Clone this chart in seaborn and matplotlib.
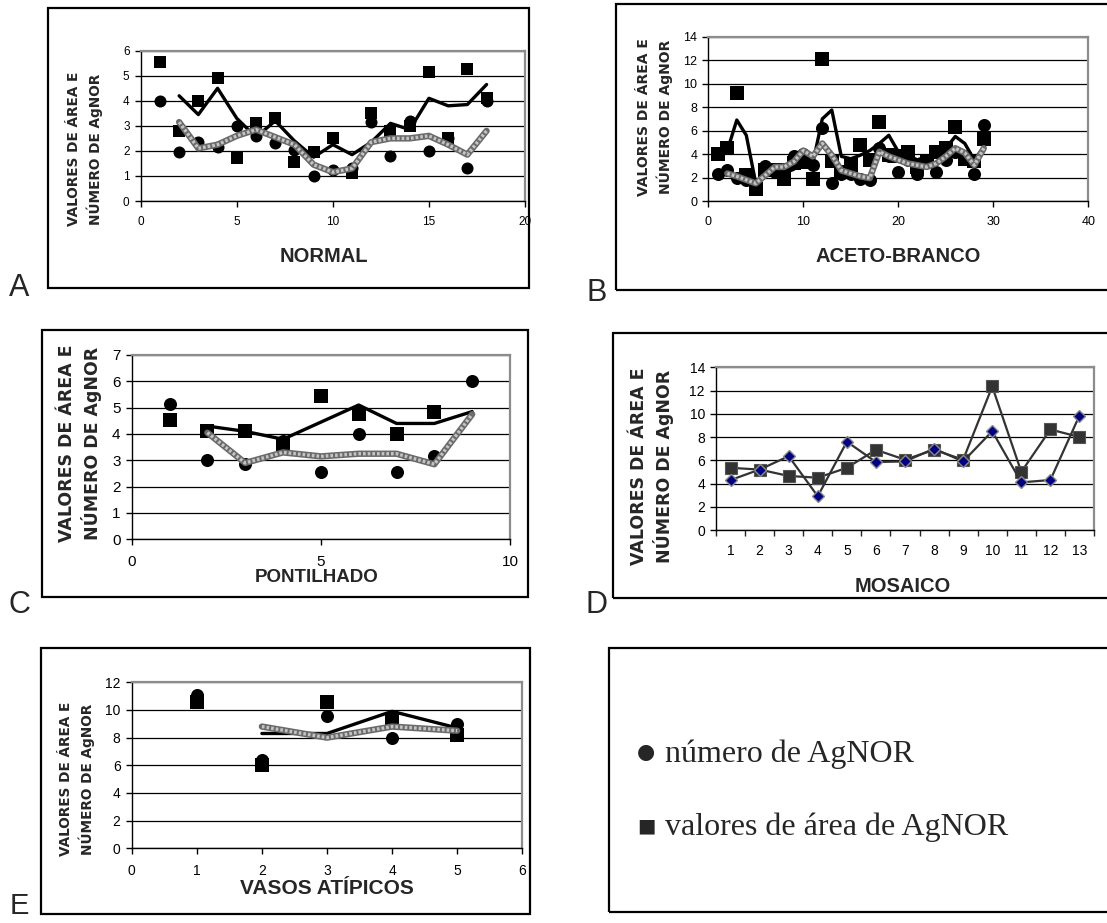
import numpy as np
import pandas as pd
import matplotlib
matplotlib.use("Agg")
import matplotlib.pyplot as plt
import seaborn as sns
from matplotlib.patches import Rectangle

# ---------------- data ----------------
A_x = list(range(1, 19))
A_area = [5.55, 2.8, 4.0, 4.9, 1.7, 3.1, 3.3, 1.55, 1.95, 2.5, 1.1, 3.5, 2.8, 3.0, 5.15, 2.5, 5.25, 4.1]
A_num = [4.0, 1.95, 2.35, 2.15, 3.0, 2.6, 2.3, 2.05, 1.0, 1.25, 1.3, 3.15, 1.8, 3.2, 2.0, 2.5, 1.3, 4.0]
A_trend_x = list(range(2, 19))
A_area_trend = [4.2, 3.45, 4.5, 3.3, 2.55, 3.2, 2.4, 1.75, 2.25, 1.85, 2.35, 3.1, 2.85, 4.1, 3.8, 3.85, 4.65]
A_num_trend = [3.15, 2.1, 2.25, 2.6, 2.85, 2.55, 2.25, 1.45, 1.15, 1.3, 2.35, 2.5, 2.5, 2.6, 2.25, 1.85, 2.8]

B_x = list(range(1, 30))
B_area = [4.0, 4.5, 9.2, 2.2, 1.0, 2.6, 2.6, 1.9, 3.2, 3.3, 1.9, 12.1, 3.4, 2.5, 3.1, 4.8, 3.5, 6.7,
          3.9, 3.8, 4.2, 2.9, 3.3, 4.2, 4.5, 6.3, 3.6, 3.4, 5.3]
B_num = [2.27, 2.65, 1.95, 1.8, 1.0, 3.0, 2.5, 2.7, 3.8, 4.0, 3.1, 6.2, 1.55, 2.3, 2.3, 1.85, 1.8, 4.5,
         3.8, 2.45, 3.5, 2.3, 3.35, 2.5, 3.5, 4.2, 3.8, 2.3, 6.5]
B_trend_x = list(range(2, 30))
B_area_trend = [4.3, 6.9, 5.6, 1.5, 2.3, 2.6, 2.4, 2.7, 4.2, 3.2, 7.0, 7.75, 3.8, 3.6, 3.9, 4.3, 4.9, 5.6,
                4.2, 3.9, 3.5, 3.8, 3.9, 4.5, 5.5, 4.9, 3.5, 4.6]
B_num_trend = [2.35, 2.1, 1.8, 1.5, 2.2, 2.9, 2.9, 3.35, 4.3, 3.8, 4.9, 3.9, 2.6, 2.35, 2.1, 1.95, 4.2, 3.8,
               3.5, 3.2, 3.05, 2.9, 3.2, 3.8, 4.5, 4.1, 3.05, 4.5]

C_area_x = list(range(1, 9))
C_area = [4.55, 4.1, 4.1, 3.6, 5.45, 4.75, 4.0, 4.85]
C_num_x = list(range(1, 10))
C_num = [5.15, 3.0, 2.85, 3.75, 2.55, 4.0, 2.55, 3.15, 6.0]
C_trend_x = list(range(2, 10))
C_area_trend = [4.3, 4.1, 3.8, 4.45, 5.1, 4.4, 4.4, 4.85]
C_num_trend = [4.05, 2.9, 3.3, 3.15, 3.25, 3.25, 2.85, 4.75]

D_cat = list(range(1, 14))
D_num = [4.3, 5.2, 6.35, 2.9, 7.6, 5.85, 5.9, 7.0, 5.9, 8.5, 4.1, 4.3, 9.85]
D_area = [5.35, 5.2, 4.65, 4.5, 5.35, 6.9, 6.05, 6.9, 6.05, 12.35, 5.0, 8.65, 8.0]

E_x = list(range(1, 6))
E_area = [10.6, 6.0, 10.6, 9.3, 8.2]
E_num = [11.1, 6.4, 9.6, 8.0, 9.0]
E_trend_x = list(range(2, 6))
E_area_trend = [8.3, 8.3, 9.9, 8.7]
E_num_trend = [8.8, 8.0, 8.8, 8.5]

YLABEL = "VALORES DE ÁREA E\nNÚMERO DE AgNOR"

# ---------------- figure ----------------
sns.set_style("white")
plt.rcParams['font.family'] = ['Liberation Sans', 'DejaVu Sans']

W, H = 1107, 923
fig = plt.figure(figsize=(W / 100, H / 100), dpi=100)


def ax_at(x0, y0, x1, y1):
    return fig.add_axes([x0 / W, 1 - y1 / H, (x1 - x0) / W, (y1 - y0) / H])


def box(x0, y0, x1, y1, lw=1.6):
    fig.patches.append(Rectangle((x0 / W, 1 - y1 / H), (x1 - x0) / W, (y1 - y0) / H,
                                 transform=fig.transFigure, fill=False, ec='black', lw=lw,
                                 clip_on=False))


def ftext(x, y, s, **kw):
    fig.text(x / W, 1 - y / H, s, **kw)


def style(ax, xlim, xticks, ylim, yticks, fs):
    ax.set_xlim(*xlim)
    ax.set_ylim(*ylim)
    ax.set_xticks(xticks)
    ax.set_yticks(yticks)
    ax.yaxis.grid(True, color='black', lw=0.9)
    ax.xaxis.grid(False)
    ax.set_axisbelow(True)
    for s in ['top', 'right']:
        ax.spines[s].set_color('#8c8c8c')
        ax.spines[s].set_linewidth(1.6)
    for s in ['left', 'bottom']:
        ax.spines[s].set_color('black')
        ax.spines[s].set_linewidth(1.0)
    ax.tick_params(axis='x', direction='out', length=4, width=1, labelsize=fs, pad=7,
                   bottom=True, colors='black')
    ax.tick_params(axis='y', direction='out', length=4, width=1, labelsize=fs, pad=4,
                   left=True, colors='black')
    ax.set_xlabel('')
    ax.set_ylabel('')
    ax.set_facecolor('white')


def scatter_trend(ax, xa, ya, xn, yn, tx, ta, tn, s):
    sns.scatterplot(x=xa, y=ya, ax=ax, marker='s', s=s, color='black', linewidth=0, zorder=3)
    sns.scatterplot(x=xn, y=yn, ax=ax, marker='o', s=s, color='black', linewidth=0, zorder=3)
    sns.lineplot(x=tx, y=ta, ax=ax, color='black', lw=2.4, sort=False, estimator=None, zorder=4)
    sns.lineplot(x=tx, y=tn, ax=ax, color='#6a6a6a', lw=4.6, sort=False, estimator=None, zorder=5)
    sns.lineplot(x=tx, y=tn, ax=ax, color='#c4c4c4', lw=2.4, sort=False, estimator=None, zorder=6,
                 linestyle=(0, (0.8, 0.6)))


# ---- Panel A ----
box(48, 8, 529, 288)
axA = ax_at(140.7, 50.7, 525, 201)
scatter_trend(axA, A_x, A_area, A_x, A_num, A_trend_x, A_area_trend, A_num_trend, 75)
style(axA, (0, 20), [0, 5, 10, 15, 20], (0, 6), range(0, 7), 8.5)
ftext(324, 257, "NORMAL", fontsize=14.5, fontweight='bold', ha='center', va='center')
ftext(85, 149, YLABEL, fontsize=9.8, fontweight='bold', family='DejaVu Sans', rotation=90,
      ha='center', va='center', multialignment='center', linespacing=1.35)
ftext(19, 288, "A", fontsize=22, ha='center', va='center')

# ---- Panel B ----
box(616, 4, 1112, 290)
axB = ax_at(708.3, 36.7, 1088.3, 201)
scatter_trend(axB, B_x, B_area, B_x, B_num, B_trend_x, B_area_trend, B_num_trend, 88)
style(axB, (0, 40), [0, 10, 20, 30, 40], (0, 14), range(0, 15, 2), 9)
ftext(898, 257, "ACETO-BRANCO", fontsize=14.5, fontweight='bold', ha='center', va='center')
ftext(655, 117, YLABEL, fontsize=10, fontweight='bold', family='DejaVu Sans', rotation=90,
      ha='center', va='center', multialignment='center', linespacing=1.35)
ftext(597, 293, "B", fontsize=22, ha='center', va='center')

# ---- Panel C ----
box(42, 330, 528, 597)
axC = ax_at(131.7, 355, 510, 539.3)
scatter_trend(axC, C_area_x, C_area, C_num_x, C_num, C_trend_x, C_area_trend, C_num_trend, 88)
style(axC, (0, 10), [0, 5, 10], (0, 7), range(0, 8), 11)
ftext(317, 577, "PONTILHADO", fontsize=13.5, fontweight='bold', ha='center', va='center')
ftext(80, 443, YLABEL, fontsize=12.5, fontweight='bold', family='DejaVu Sans', rotation=90,
      ha='center', va='center', multialignment='center', linespacing=1.25)
ftext(19, 605, "C", fontsize=22, ha='center', va='center')

# ---- Panel D ----
box(613, 333, 1112, 598)
axD = ax_at(716, 367.3, 1094, 530)
sns.lineplot(x=D_cat, y=D_area, ax=axD, color='#333333', lw=1.6, sort=False, estimator=None,
             marker='s', markersize=9, markerfacecolor='#333333', markeredgecolor='#555555',
             markeredgewidth=0.8, zorder=3)
sns.lineplot(x=D_cat, y=D_num, ax=axD, color='#333333', lw=1.6, sort=False, estimator=None,
             marker='D', markersize=6, markerfacecolor='#000080', markeredgecolor='#8a8a8a',
             markeredgewidth=1.0, zorder=4)
style(axD, (0.5, 13.5), D_cat, (0, 14), range(0, 15, 2), 10)
axD.set_xticks(np.arange(0.5, 14, 1), minor=True)
axD.tick_params(axis='x', which='major', length=0, pad=10)
axD.tick_params(axis='x', which='minor', direction='out', length=4, width=1, bottom=True)
ftext(903, 587, "MOSAICO", fontsize=14.5, fontweight='bold', ha='center', va='center')
ftext(652, 466, YLABEL, fontsize=12.5, fontweight='bold', family='DejaVu Sans', rotation=90,
      ha='center', va='center', multialignment='center', linespacing=1.25)
ftext(597, 605, "D", fontsize=22, ha='center', va='center')

# ---- Panel E ----
box(41, 648, 530, 914)
axE = ax_at(131.7, 682.3, 522.3, 848.3)
scatter_trend(axE, E_x, E_area, E_x, E_num, E_trend_x, E_area_trend, E_num_trend, 88)
style(axE, (0, 6), range(0, 7), (0, 12), range(0, 13, 2), 10)
ftext(327, 888, "VASOS ATÍPICOS", fontsize=15, fontweight='bold', ha='center', va='center')
ftext(77, 779, YLABEL, fontsize=9.8, fontweight='bold', family='DejaVu Sans', rotation=90,
      ha='center', va='center', multialignment='center', linespacing=1.35)
ftext(19, 906, "E", fontsize=21, ha='center', va='center')

# ---- Legend box ----
box(609, 648, 1112, 912)
ftext(646, 752, "●", fontsize=15, family='DejaVu Sans', ha='center', va='center')
ftext(665, 761.7, "número de AgNOR", fontsize=23, family='Liberation Serif', ha='left', va='baseline')
ftext(646, 826, "■", fontsize=14, family='DejaVu Sans', ha='center', va='center')
ftext(665, 835, "valores de área de AgNOR", fontsize=23, family='Liberation Serif', ha='left',
      va='baseline')

fig.savefig("out.png", dpi=100, facecolor='white')
